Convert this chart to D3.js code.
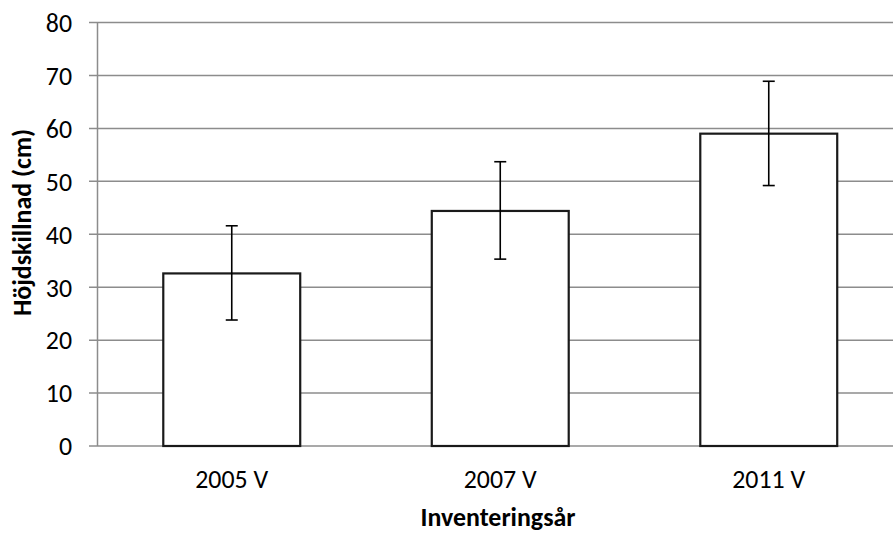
<!DOCTYPE html>
<html><head><meta charset="utf-8">
<script src="https://cdn.jsdelivr.net/npm/d3@7"></script>
<style>body{margin:0;background:#fff}svg{display:block}</style>
</head><body>
<svg id="c" width="893" height="533"></svg>
<script>
const categories = ["2005 V", "2007 V", "2011 V"];
const values = [32.6, 44.4, 59.0];
const errLow = [23.8, 35.3, 49.2];
const errHigh = [41.6, 53.7, 68.9];
const yTicks = [0, 10, 20, 30, 40, 50, 60, 70, 80];
const xTitle = "Inventeringsår";
const yTitle = "Höjdskillnad (cm)";

(function () {
const svg = d3.select("#c");
const font = "Carlito, Lato, 'Open Sans', sans-serif";
const pl = 97.5, pr = 903, pt = 22.5, pb = 446;
const x = d3.scaleBand().domain(categories).range([pl, pr]).paddingInner(0.49).paddingOuter(0.245);
const y = d3.scaleLinear().domain([0, 80]).range([pb, pt]);

function fit(text, weight, target) {
  const t = svg.append("text").attr("font-family", font).attr("font-size", 100)
    .attr("font-weight", weight).text(text);
  const w = t.node().getComputedTextLength();
  t.remove();
  return 100 * target / w;
}
const tickSize = Math.min(fit("2005 V", "normal", 73), 26);
const titleSize = fit(xTitle, "bold", 155);

svg.append("g").selectAll("line").data(yTicks).join("line")
  .attr("x1", 89).attr("x2", pr).attr("y1", d => y(d)).attr("y2", d => y(d))
  .attr("stroke", "#8c8c8c").attr("stroke-width", 1.5);
svg.append("line").attr("x1", pl).attr("x2", pl).attr("y1", pt).attr("y2", pb)
  .attr("stroke", "#8c8c8c").attr("stroke-width", 1.5);

svg.append("g").selectAll("text").data(yTicks).join("text")
  .attr("x", 72).attr("y", d => y(d)).attr("dy", "0.36em").attr("text-anchor", "end")
  .attr("font-family", font).attr("font-size", tickSize).attr("fill", "#000").text(d => d);

svg.append("g").selectAll("rect").data(values).join("rect")
  .attr("x", (d, i) => x(categories[i])).attr("width", x.bandwidth())
  .attr("y", d => y(d)).attr("height", d => y(0) - y(d))
  .attr("fill", "#fff").attr("stroke", "#1a1a1a").attr("stroke-width", 2.2);

const eb = svg.append("g").attr("stroke", "#000").attr("stroke-width", 1.6);
categories.forEach((c, i) => {
  const cx = x(c) + x.bandwidth() / 2;
  eb.append("line").attr("x1", cx).attr("x2", cx).attr("y1", y(errLow[i])).attr("y2", y(errHigh[i]));
  eb.append("line").attr("x1", cx - 6).attr("x2", cx + 6).attr("y1", y(errLow[i])).attr("y2", y(errLow[i]));
  eb.append("line").attr("x1", cx - 6).attr("x2", cx + 6).attr("y1", y(errHigh[i])).attr("y2", y(errHigh[i]));
});

svg.append("g").selectAll("text").data(categories).join("text")
  .attr("x", d => x(d) + x.bandwidth() / 2).attr("y", 488).attr("text-anchor", "middle")
  .attr("font-family", font).attr("font-size", tickSize).attr("fill", "#000").text(d => d);

svg.append("text").attr("x", 498).attr("y", 526)
  .attr("text-anchor", "middle").attr("font-family", font).attr("font-size", titleSize)
  .attr("font-weight", "bold").text(xTitle);

svg.append("text").attr("transform", `translate(31,222.5) rotate(-90)`)
  .attr("text-anchor", "middle").attr("font-family", font).attr("font-size", titleSize)
  .attr("font-weight", "bold").text(yTitle);
})();
</script>
</body></html>
